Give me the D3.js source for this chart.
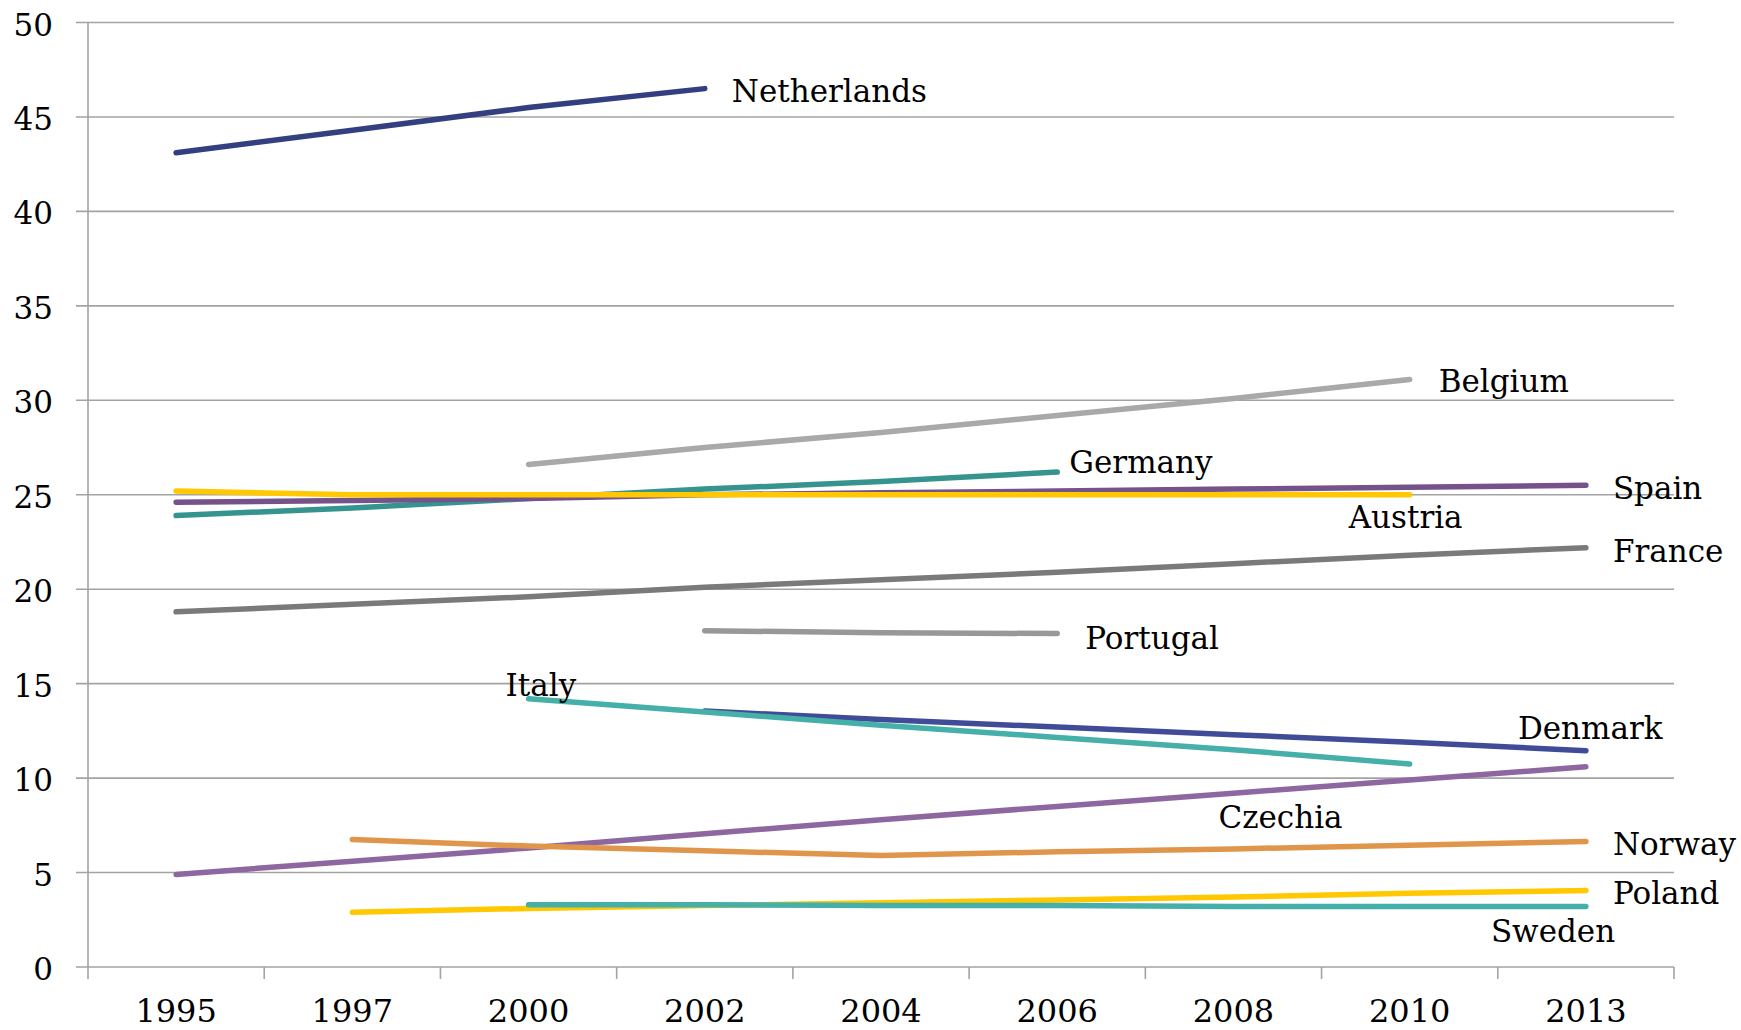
<!DOCTYPE html>
<html>
<head>
<meta charset="utf-8">
<script src="https://cdn.jsdelivr.net/npm/d3@7/dist/d3.min.js"></script>
<style>
  html, body { margin: 0; padding: 0; background: #ffffff; }
  svg { display: block; }
  text { font-family: "DejaVu Serif", "Liberation Serif", serif; fill: #000; }
</style>
</head>
<body>
<svg id="chart" width="1741" height="1030"></svg>
<script>
// ---------------- data ----------------
const years = ["1995", "1997", "2000", "2002", "2004", "2006", "2008", "2010", "2013"];
const yTicks = [0, 5, 10, 15, 20, 25, 30, 35, 40, 45, 50];

const netherlands = [43.1, 44.3, 45.5, 46.5, null, null, null, null, null];
const belgium     = [null, null, 26.6, 27.5, 28.3, 29.2, 30.1, 31.1, null];
const germany     = [23.9, 24.3, 24.8, 25.3, 25.7, 26.2, null, null, null];
const spain       = [24.6, 24.7, 24.8, 25.0, 25.1, 25.2, 25.3, 25.4, 25.5];
const austria     = [25.2, 25.0, 25.0, 25.0, 25.0, 25.0, 25.0, 25.0, null];
const france      = [18.8, 19.2, 19.6, 20.1, 20.5, 20.9, 21.35, 21.8, 22.2];
const portugal    = [null, null, null, 17.8, 17.7, 17.65, null, null, null];
const denmark     = [null, null, null, 13.55, 13.1, 12.7, 12.3, 11.9, 11.45];
const italy       = [null, null, 14.2, 13.5, 12.8, 12.15, 11.5, 10.75, null];
const czechia     = [4.9, 5.6, 6.3, 7.05, 7.8, 8.5, 9.2, 9.9, 10.6];
const norway      = [null, 6.75, 6.4, 6.15, 5.9, 6.1, 6.25, 6.45, 6.65];
const poland      = [null, 2.9, 3.1, 3.25, 3.4, 3.55, 3.7, 3.9, 4.05];
const sweden      = [null, null, 3.3, 3.3, 3.25, 3.25, 3.2, 3.2, 3.2];

const seriesNames  = ["Netherlands", "Belgium", "Germany", "Spain", "Austria", "France", "Portugal",
                      "Denmark", "Italy", "Czechia", "Norway", "Poland", "Sweden"];
const seriesValues = [netherlands, belgium, germany, spain, austria, france, portugal,
                      denmark, italy, czechia, norway, poland, sweden];

// ---------------- styles ----------------
const seriesColors = {
  Netherlands: "#333f80", Belgium: "#a9a9a9", Germany: "#36948f", Spain: "#76528a",
  Austria: "#ffc800", France: "#7a7a7a", Portugal: "#989898", Denmark: "#404c97",
  Italy: "#45afaa", Czechia: "#8e67a0", Norway: "#e0964a", Poland: "#ffc800", Sweden: "#45afaa"
};
// label placement: anchored at a year of the series, offset in pixels
const labelPlacement = {
  Netherlands: { year: "2002", dx: 27, dy: 13 },
  Belgium:     { year: "2010", dx: 29, dy: 12 },
  Germany:     { year: "2006", dx: 12, dy: 1 },
  Spain:       { year: "2013", dx: 27, dy: 14 },
  Austria:     { year: "2010", dx: -61, dy: 33 },
  France:      { year: "2013", dx: 27, dy: 14 },
  Portugal:    { year: "2006", dx: 28, dy: 15 },
  Italy:       { year: "2000", dx: -23, dy: -3 },
  Denmark:     { year: "2013", dx: -68, dy: -12 },
  Czechia:     { year: "2008", dx: -15, dy: 35 },
  Norway:      { year: "2013", dx: 27, dy: 14 },
  Poland:      { year: "2013", dx: 27, dy: 14 },
  Sweden:      { year: "2013", dx: -95, dy: 35 }
};

// ---------------- layout ----------------
const plotLeft = 88, plotRight = 1674, plotTop = 22.5, plotBottom = 967;
const gridColor = "#a3a3a3";

const svg = d3.select("#chart");
svg.append("rect").attr("width", 1741).attr("height", 1030).attr("fill", "#fff");

const x = d3.scaleBand().domain(years).range([plotLeft, plotRight]).padding(0);
const y = d3.scaleLinear().domain([0, 50]).range([plotBottom, plotTop]);
const cx = yr => x(yr) + x.bandwidth() / 2;

// horizontal gridlines
svg.append("g").selectAll("line").data(yTicks).join("line")
  .attr("x1", plotLeft - 12).attr("x2", plotRight)
  .attr("y1", d => y(d)).attr("y2", d => y(d))
  .attr("stroke", gridColor).attr("stroke-width", 1.6);

// y axis line
svg.append("line").attr("x1", plotLeft).attr("x2", plotLeft).attr("y1", plotTop).attr("y2", plotBottom)
  .attr("stroke", gridColor).attr("stroke-width", 1.6);

// x axis ticks at band boundaries
const boundaries = years.map(yr => x(yr)).concat([plotRight]);
svg.append("g").selectAll("line").data(boundaries).join("line")
  .attr("x1", d => d).attr("x2", d => d).attr("y1", plotBottom).attr("y2", plotBottom + 12)
  .attr("stroke", gridColor).attr("stroke-width", 1.6);

// y tick labels
svg.append("g").selectAll("text").data(yTicks).join("text")
  .attr("x", 53).attr("y", d => y(d) + 13)
  .attr("text-anchor", "end").attr("font-size", 31)
  .text(d => d);

// x tick labels
svg.append("g").selectAll("text").data(years).join("text")
  .attr("x", d => cx(d)).attr("y", 1022)
  .attr("text-anchor", "middle").attr("font-size", 32)
  .text(d => d);

// lines
const line = d3.line()
  .defined(d => d.v != null)
  .x(d => cx(d.year))
  .y(d => y(d.v));

const series = seriesNames.map((name, i) => ({
  name,
  points: years.map((yr, j) => ({ year: yr, v: seriesValues[i][j] }))
}));

svg.append("g").selectAll("path").data(series).join("path")
  .attr("d", d => line(d.points))
  .attr("fill", "none")
  .attr("stroke", d => seriesColors[d.name])
  .attr("stroke-width", 5.5)
  .attr("stroke-linecap", "round")
  .attr("stroke-linejoin", "round");

// labels
svg.append("g").selectAll("text").data(series).join("text")
  .attr("x", d => cx(labelPlacement[d.name].year) + labelPlacement[d.name].dx)
  .attr("y", d => {
    const lp = labelPlacement[d.name];
    const v = d.points.find(p => p.year === lp.year).v;
    return y(v) + lp.dy;
  })
  .attr("font-size", 31)
  .text(d => d.name);
</script>
</body>
</html>
